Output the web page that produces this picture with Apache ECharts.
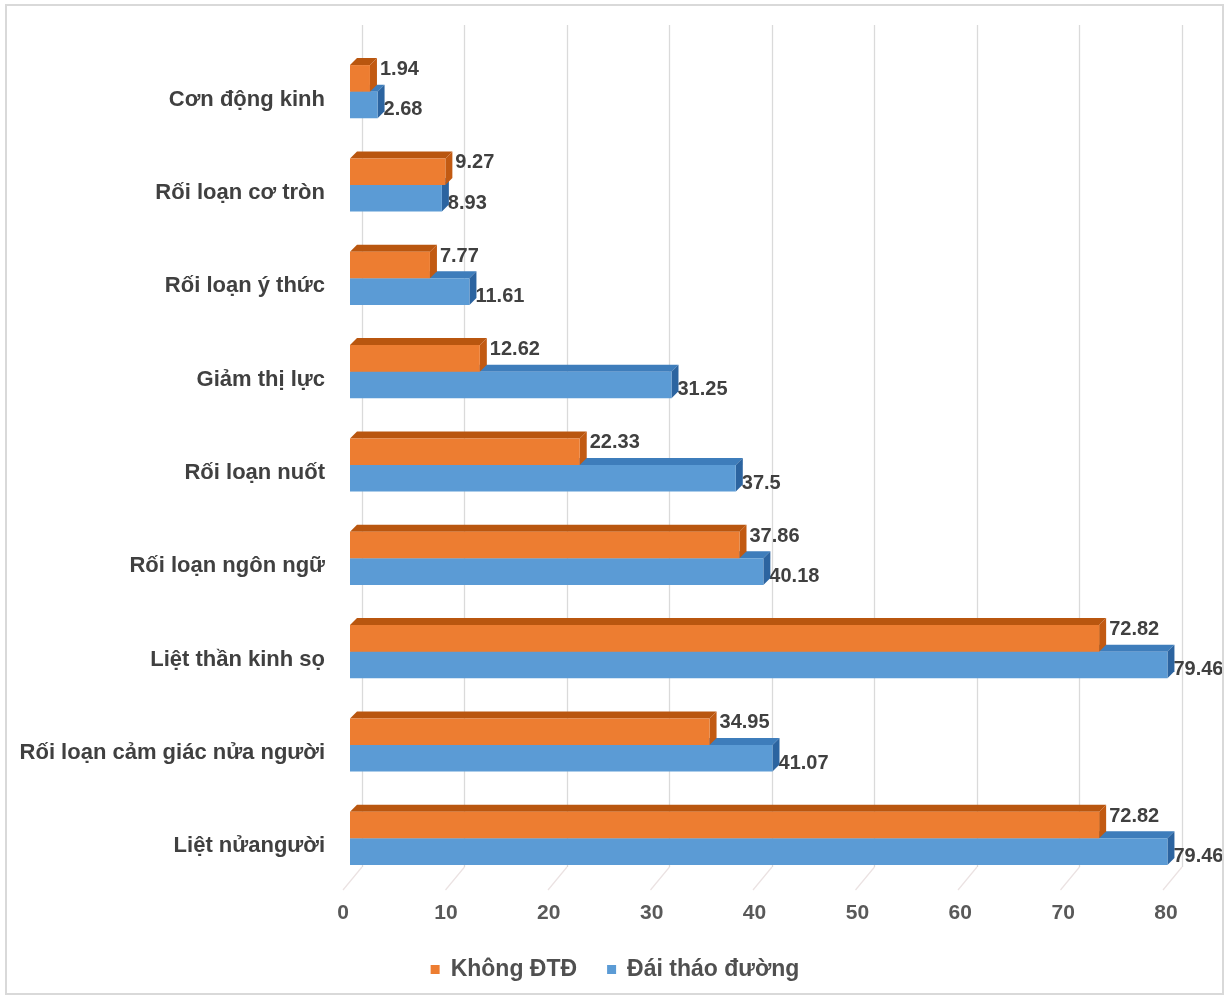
<!DOCTYPE html>
<html>
<head>
<meta charset="utf-8">
<script src="https://cdn.jsdelivr.net/npm/echarts@6/dist/echarts.min.js"></script>
<style>
  html, body { margin: 0; padding: 0; background: #ffffff; }
  #chart { width: 1230px; height: 1000px; }
</style>
</head>
<body>
<div id="chart"></div>
<script>
// Categories, listed top to bottom
const categories = [
  'Cơn động kinh',
  'Rối loạn cơ tròn',
  'Rối loạn ý thức',
  'Giảm thị lực',
  'Rối loạn nuốt',
  'Rối loạn ngôn ngữ',
  'Liệt thần kinh sọ',
  'Rối loạn cảm giác nửa người',
  'Liệt nửangười'
];
// Series values (%)
const khongDTD = [1.94, 9.27, 7.77, 12.62, 22.33, 37.86, 72.82, 34.95, 72.82];
const daiThaoDuong = [2.68, 8.93, 11.61, 31.25, 37.5, 40.18, 79.46, 41.07, 79.46];
// Value axis ticks
const xTicks = [0, 10, 20, 30, 40, 50, 60, 70, 80];
const seriesNames = ['Không ĐTĐ', 'Đái tháo đường'];

const ORANGE = { front: '#ED7D31', top: '#B9560F', side: '#C25A12' };
const BLUE = { front: '#5B9BD5', top: '#3E7DBB', side: '#2C64A0' };
const DEPTH = 7;

// Pseudo-3D horizontal bar: front face, top face and right side face
function bar3d(colors, upper) {
  return function (params, api) {
    const v = api.value(0);
    const idx = api.value(1);
    const p0 = api.coord([0, idx]);
    const p1 = api.coord([v, idx]);
    const band = api.size([0, 1])[1];
    const h = band * 0.285;
    const yTop = upper ? p0[1] - h : p0[1];
    const yBot = yTop + h;
    const x0 = p0[0], x1 = p1[0], d = DEPTH;
    const labelX = upper ? x1 + d + 3 : x1 + d - 1;
    const labelY = upper ? yTop + h / 2 - 9 : yTop + h / 2 + 5;
    return {
      type: 'group',
      children: [
        {
          type: 'text',
          style: {
            text: String(v), x: labelX, y: labelY,
            verticalAlign: 'middle', align: 'left',
            fontFamily: 'Liberation Sans, Arial, sans-serif',
            fontSize: 20, fontWeight: 'bold', fill: '#404040'
          }
        },
        {
          type: 'polygon',
          shape: { points: [[x0, yTop], [x0 + d, yTop - d], [x1 + d, yTop - d], [x1, yTop]] },
          style: { fill: colors.top }
        },
        {
          type: 'polygon',
          shape: { points: [[x1, yTop], [x1 + d, yTop - d], [x1 + d, yBot - d], [x1, yBot]] },
          style: { fill: colors.side }
        },
        {
          type: 'rect',
          shape: { x: x0, y: yTop, width: x1 - x0, height: h },
          style: { fill: colors.front }
        }
      ]
    };
  };
}

// Slanted floor lines joining the back-wall gridlines to the front edge
function floorLine(params, api) {
  const p = api.coord([api.value(0), 0]);
  return {
    type: 'line',
    shape: { x1: p[0], y1: p[1], x2: p[0] - 19, y2: p[1] + 23 },
    style: { stroke: '#ebe2e2', lineWidth: 1.2 }
  };
}

const chart = echarts.init(document.getElementById('chart'), null, { renderer: 'canvas' });

chart.setOption({
  backgroundColor: '#ffffff',
  animation: false,
  textStyle: { fontFamily: 'Liberation Sans, Arial, sans-serif' },
  graphic: [
    {
      type: 'rect',
      shape: { x: 6, y: 5, width: 1217, height: 989 },
      style: { fill: 'none', stroke: '#d9d9d9', lineWidth: 2 },
      z: 100
    }
  ],
  grid: [
    { left: 350, right: 57, top: 45, bottom: 115 },
    { left: 362, right: 48, top: 25, bottom: 133 }
  ],
  xAxis: [
    {
      gridIndex: 0, type: 'value', min: 0, max: 80, interval: 10,
      axisLine: { show: false }, axisTick: { show: false }, splitLine: { show: false },
      axisLabel: {
        margin: 18, padding: [0, 14, 0, 0],
        fontSize: 21, fontWeight: 'bold', color: '#595959',
        formatter: function (v) { return xTicks.indexOf(v) >= 0 ? String(v) : ''; }
      }
    },
    {
      gridIndex: 1, type: 'value', min: 0, max: 80, interval: 10,
      axisLine: { show: false }, axisTick: { show: false }, axisLabel: { show: false },
      splitLine: { show: true, lineStyle: { color: '#dadada', width: 1.3 } }
    }
  ],
  yAxis: [
    {
      gridIndex: 0, type: 'category', data: categories, inverse: true,
      axisLine: { show: false }, axisTick: { show: false }, splitLine: { show: false },
      axisLabel: {
        margin: 25, verticalAlign: 'top', lineHeight: 16,
        fontSize: 22, fontWeight: 'bold', color: '#404040'
      }
    },
    {
      gridIndex: 1, type: 'value', min: 0, max: 1, show: false
    }
  ],
  legend: {
    data: seriesNames,
    left: 'center', top: 953,
    icon: 'rect', itemWidth: 9, itemHeight: 9, itemGap: 30,
    textStyle: { fontSize: 23, fontWeight: 'bold', color: '#505050', padding: [0, 0, 0, 6] }
  },
  series: [
    {
      type: 'custom', name: 'floor', xAxisIndex: 1, yAxisIndex: 1,
      renderItem: floorLine, silent: true,
      data: xTicks.map(function (t) { return [t]; }),
      encode: { x: 0 }, z: 1
    },
    {
      type: 'custom', name: seriesNames[1], xAxisIndex: 0, yAxisIndex: 0,
      itemStyle: { color: BLUE.front },
      renderItem: bar3d(BLUE, false),
      data: daiThaoDuong.map(function (v, i) { return [v, i]; }),
      encode: { x: 0, y: 1 }, z: 2
    },
    {
      type: 'custom', name: seriesNames[0], xAxisIndex: 0, yAxisIndex: 0,
      itemStyle: { color: ORANGE.front },
      renderItem: bar3d(ORANGE, true),
      data: khongDTD.map(function (v, i) { return [v, i]; }),
      encode: { x: 0, y: 1 }, z: 3
    }
  ]
});
</script>
</body>
</html>
